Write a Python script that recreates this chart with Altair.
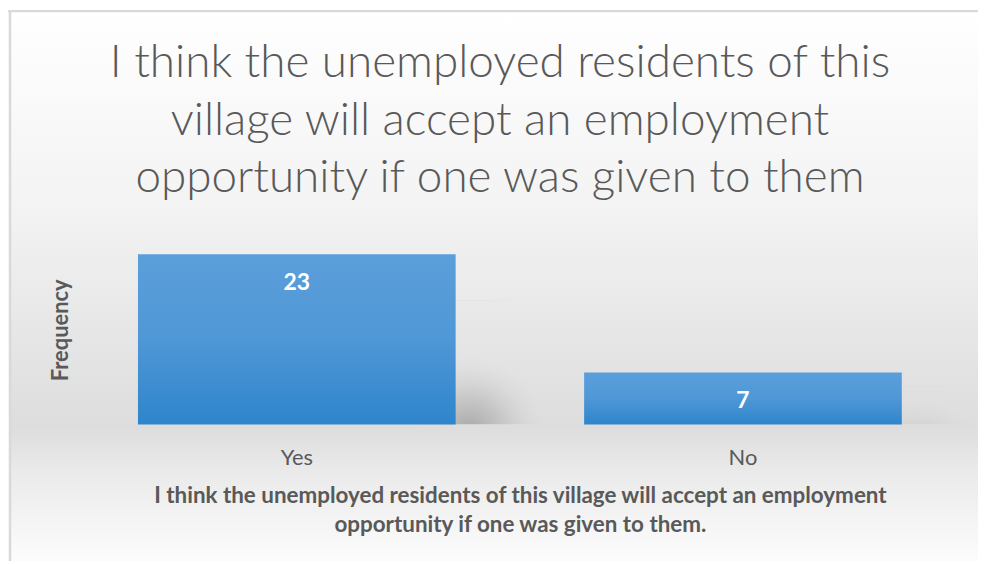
import altair as alt
import pandas as pd

categories = ["Yes", "No"]
frequencies = [23, 7]

title_lines = [
    "I think the unemployed residents of this",
    "village will accept an employment",
    "opportunity if one was given to them",
]
x_title_lines = [
    "I think the unemployed residents of this village will accept an employment",
    "opportunity if one was given to them.",
]
y_title = "Frequency"

df = pd.DataFrame({"answer": categories, "freq": frequencies})

GRAY = "#595959"
FONT = "Lato"
W, H = 896, 171

bg = alt.Chart(alt.Data(values=[{}])).mark_rect(
    color=alt.Gradient(
        gradient="linear", x1=0, x2=0, y1=0, y2=1,
        stops=[
            alt.GradientStop(offset=0, color="#ffffff"),
            alt.GradientStop(offset=0.35, color="#f3f3f3"),
            alt.GradientStop(offset=0.74, color="#dddddd"),
            alt.GradientStop(offset=0.82, color="#eaeaea"),
            alt.GradientStop(offset=1, color="#ffffff"),
        ],
    )
).encode(x=alt.value(-65), x2=alt.value(940), y=alt.value(-244), y2=alt.value(320))

frame_top = alt.Chart(alt.Data(values=[{}])).mark_rule(color="#d9d9d9", strokeWidth=2.5).encode(
    x=alt.value(-66), x2=alt.value(940), y=alt.value(-244)
)
frame_left = alt.Chart(alt.Data(values=[{}])).mark_rule(color="#d9d9d9", strokeWidth=2.5).encode(
    x=alt.value(-64), y=alt.value(-245), y2=alt.value(320)
)

title = alt.Chart(alt.Data(values=[{}])).mark_text(
    text=title_lines,
    font=FONT,
    fontSize=46,
    fontWeight=300,
    color=GRAY,
    lineHeight=58,
    align="center",
    baseline="middle",
).encode(x=alt.value(428), y=alt.value(-192))

xscale = alt.Scale(paddingInner=0.288, paddingOuter=0.144)
yscale = alt.Scale(domain=[0, 23], nice=False)

xaxis = alt.Axis(
    title=x_title_lines,
    labelAngle=0,
    labelFontSize=22,
    labelColor=GRAY,
    labelFont=FONT,
    labelPadding=23,
    ticks=False,
    domain=False,
    titleFontSize=22.5,
    titleFont=FONT,
    titleFontWeight="bold",
    titleColor=GRAY,
    titleLineHeight=30,
    titlePadding=16,
    zindex=2,
)
yaxis = alt.Axis(
    title=y_title,
    labels=False,
    ticks=False,
    domain=False,
    grid=False,
    titleFontSize=22,
    titleFont=FONT,
    titleFontWeight="bold",
    titleColor=GRAY,
    titleAngle=-90,
    titleBaseline="middle",
    titleAlign="center",
    titleX=-13,
    titleY=76,
    zindex=2,
)

xenc = alt.X("answer:N", sort=categories, scale=xscale, axis=xaxis)

shadow = alt.Chart(df).transform_calculate(
    sh="datum.freq * 0.73"
).mark_bar(
    xOffset=90,
    color=alt.Gradient(
        gradient="radial", x1=0.76, y1=0.72, r1=0, x2=0.76, y2=0.72, r2=0.24,
        stops=[
            alt.GradientStop(offset=0, color="rgba(155,155,155,0.85)"),
            alt.GradientStop(offset=0.45, color="rgba(175,175,175,0.5)"),
            alt.GradientStop(offset=1, color="rgba(215,215,215,0)"),
        ],
    ),
).encode(
    x=xenc,
    y=alt.Y("sh:Q", scale=yscale, axis=yaxis),
)

bars = alt.Chart(df).mark_bar(
    color=alt.Gradient(
        gradient="linear", x1=0, x2=0, y1=0, y2=1,
        stops=[
            alt.GradientStop(offset=0, color="#5b9fda"),
            alt.GradientStop(offset=0.5, color="#4f97d6"),
            alt.GradientStop(offset=1, color="#2e85cc"),
        ],
    )
).encode(x=xenc, y=alt.Y("freq:Q", scale=yscale, axis=yaxis))

labels = alt.Chart(df).mark_text(
    color="white", fontSize=23, fontWeight="bold", font=FONT, baseline="middle", dy=29
).encode(x=alt.X("answer:N", sort=categories), y="freq:Q", text="freq:Q")

chart = alt.layer(bg, frame_top, frame_left, title, shadow, bars, labels).properties(
    width=W,
    height=H,
    padding={"left": 66, "top": 246, "right": 12, "bottom": 136},
    autosize=alt.AutoSizeParams(type="none"),
).configure_view(stroke=None).configure(background="#ffffff")

chart.save("out.html", embed_options={"renderer": "svg", "actions": False})
